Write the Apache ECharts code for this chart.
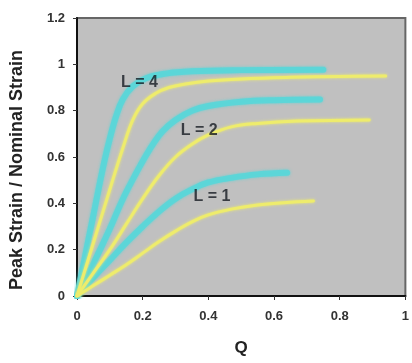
<!DOCTYPE html>
<html>
<head>
<meta charset="utf-8">
<script src="https://cdn.jsdelivr.net/npm/echarts@6/dist/echarts.min.js"></script>
<style>
  html, body { margin: 0; padding: 0; background: #fff; }
  #chart { width: 412px; height: 363px; }
</style>
</head>
<body>
<div id="chart"></div>
<script>
// 曲线数据 [Q, 峰值应变/名义应变]
const cyanL4 = [[0, 0], [0.05, 0.35], [0.08, 0.56], [0.10, 0.68], [0.12, 0.78], [0.14, 0.85], [0.17, 0.905], [0.21, 0.94], [0.27, 0.96], [0.35, 0.97], [0.50, 0.975], [0.75, 0.977]]
const yellowL4 = [[0, 0], [0.05, 0.23], [0.10, 0.46], [0.14, 0.64], [0.17, 0.76], [0.20, 0.83], [0.24, 0.875], [0.28, 0.90], [0.33, 0.915], [0.40, 0.928], [0.50, 0.937], [0.65, 0.944], [0.80, 0.948], [0.94, 0.95]]
const cyanL2 = [[0, 0], [0.05, 0.14], [0.10, 0.29], [0.14, 0.42], [0.18, 0.53], [0.22, 0.63], [0.26, 0.71], [0.30, 0.76], [0.35, 0.80], [0.40, 0.82], [0.50, 0.838], [0.60, 0.845], [0.74, 0.848]]
const yellowL2 = [[0, 0], [0.05, 0.10], [0.10, 0.20], [0.15, 0.31], [0.20, 0.42], [0.25, 0.52], [0.30, 0.60], [0.35, 0.655], [0.40, 0.695], [0.47, 0.73], [0.55, 0.745], [0.67, 0.755], [0.89, 0.76]]
const cyanL1 = [[0, 0], [0.05, 0.08], [0.10, 0.155], [0.15, 0.23], [0.20, 0.30], [0.25, 0.365], [0.30, 0.42], [0.35, 0.46], [0.40, 0.49], [0.47, 0.51], [0.55, 0.525], [0.64, 0.532]]
const yellowL1 = [[0, 0], [0.05, 0.045], [0.10, 0.09], [0.15, 0.135], [0.20, 0.185], [0.25, 0.235], [0.30, 0.28], [0.35, 0.32], [0.40, 0.35], [0.47, 0.375], [0.55, 0.393], [0.63, 0.403], [0.72, 0.41]]

// 曲线标注
const curveLabels = [
  { text: 'L = 4', coord: [0.19, 0.92] },
  { text: 'L = 2', coord: [0.372, 0.716] },
  { text: 'L = 1', coord: [0.411, 0.427] }
]

const fontFamily = "'Liberation Sans', Arial, sans-serif"
const axisFont = { fontFamily: fontFamily, fontWeight: 'bold', color: '#333', fontSize: 13 }

function curve(data, color, width, opacity) {
  return {
    type: 'line',
    data: data,
    smooth: 0.4,
    showSymbol: false,
    silent: true,
    z: 2,
    lineStyle: { color: color, width: width, opacity: opacity, cap: 'round', shadowColor: color, shadowBlur: 3 }
  }
}

const chart = echarts.init(document.getElementById('chart'))
chart.setOption({
  animation: false,
  grid: { left: 76, right: 3, top: 18, bottom: 67, show: true, backgroundColor: '#c0c0c0', borderColor: '#666', borderWidth: 2 },
  xAxis: {
    type: 'value', min: 0, max: 1, interval: 0.2,
    name: 'Q', nameLocation: 'middle', nameGap: 44,
    nameTextStyle: Object.assign({}, axisFont, { fontSize: 17, color: '#222' }),
    axisLine: { show: true, lineStyle: { color: '#111', width: 2 } },
    axisTick: { show: true, length: 4, lineStyle: { color: '#333' } },
    axisLabel: Object.assign({}, axisFont, { margin: 14 }),
    splitLine: { show: false }
  },
  yAxis: {
    type: 'value', min: 0, max: 1.2, interval: 0.2,
    name: 'Peak Strain / Nominal Strain', nameLocation: 'middle', nameGap: 51,
    nameTextStyle: Object.assign({}, axisFont, { fontSize: 18, color: '#222', padding: [0, 26, 0, 0] }),
    axisLine: { show: true, lineStyle: { color: '#111', width: 2 } },
    axisTick: { show: true, length: 4, lineStyle: { color: '#333' } },
    axisLabel: Object.assign({}, axisFont, { margin: 12 }),
    splitLine: { show: false }
  },
  series: [
    curve(cyanL4, '#5ad6d8', 6, 0.9),
    curve(cyanL2, '#5ad6d8', 6, 0.9),
    curve(cyanL1, '#5ad6d8', 6, 0.9),
    curve(yellowL4, '#eeec6c', 3, 1),
    curve(yellowL2, '#eeec6c', 3, 1),
    curve(yellowL1, '#eeec6c', 3, 1),
    {
      type: 'scatter',
      silent: true,
      symbolSize: 0,
      z: 20,
      data: curveLabels.map(d => ({
        value: d.coord,
        label: {
          show: true, position: 'inside', formatter: d.text,
          fontFamily: fontFamily, fontWeight: 'bold', fontSize: 16, color: '#151a22'
        }
      }))
    }
  ]
})
</script>
</body>
</html>
